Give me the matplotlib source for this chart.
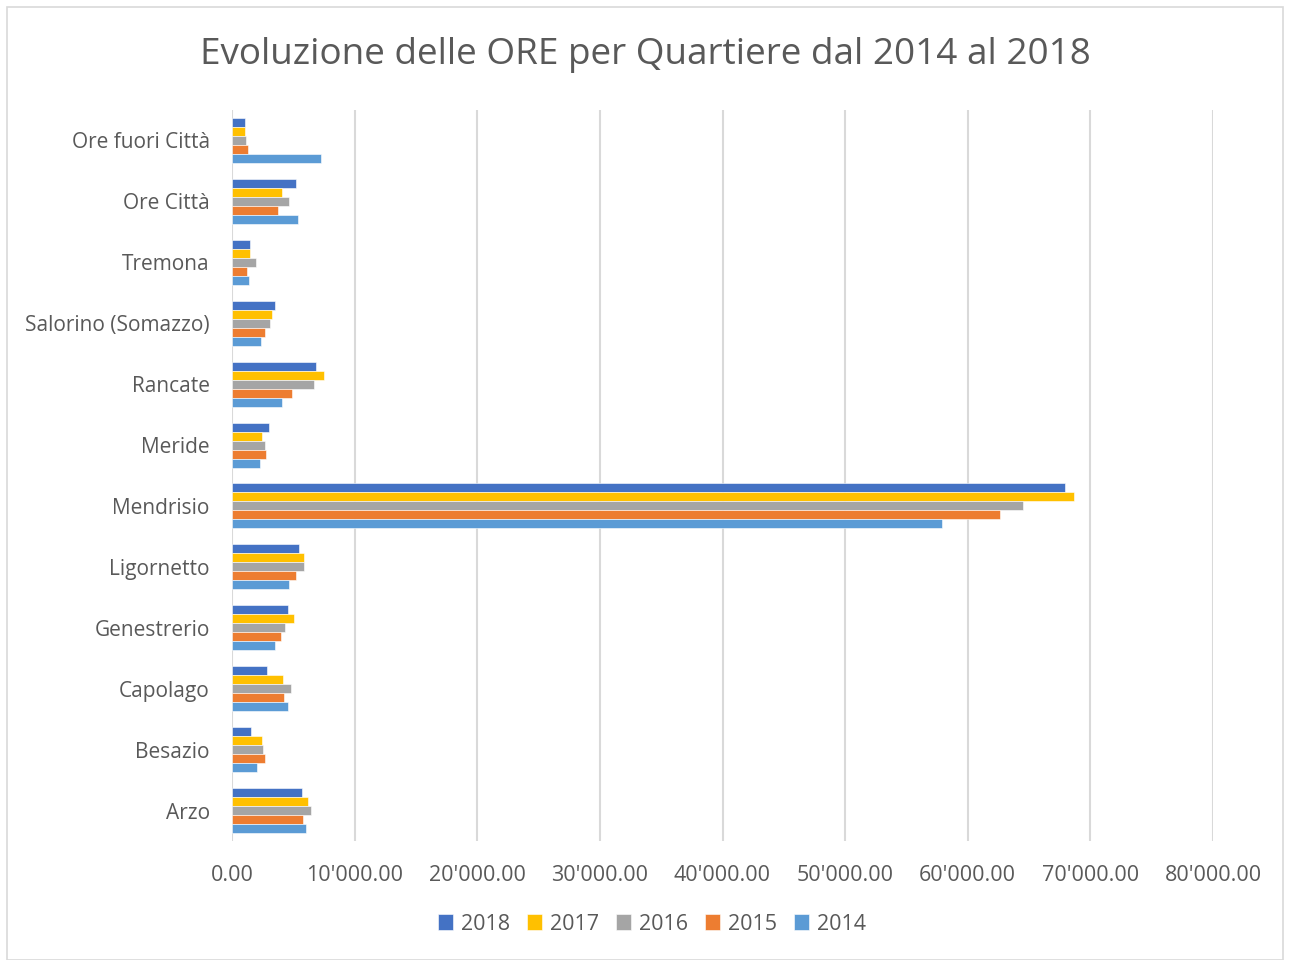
import numpy as np
import matplotlib.pyplot as plt
from matplotlib.patches import Rectangle
from matplotlib.ticker import FuncFormatter

plt.rcParams['font.family'] = ['Open Sans', 'DejaVu Sans']

# categories listed bottom to top
quartieri = ["Arzo", "Besazio", "Capolago", "Genestrerio", "Ligornetto",
             "Mendrisio", "Meride", "Rancate", "Salorino (Somazzo)",
             "Tremona", "Ore Città", "Ore fuori Città"]

ore_2018 = [5680, 1570, 2880, 4590, 5490, 67920, 3020, 6870, 3500, 1440, 5190, 1100]
ore_2017 = [6220, 2470, 4180, 5050, 5870, 68680, 2420, 7520, 3260, 1490, 4100, 1060]
ore_2016 = [6460, 2530, 4810, 4320, 5900, 64470, 2660, 6710, 3120, 1930, 4670, 1170]
ore_2015 = [5790, 2710, 4240, 4020, 5220, 62620, 2800, 4920, 2660, 1220, 3720, 1300]
ore_2014 = [6030, 2040, 4540, 3500, 4650, 57920, 2310, 4100, 2340, 1390, 5380, 7280]

anni = ["2018", "2017", "2016", "2015", "2014"]
serie = [ore_2018, ore_2017, ore_2016, ore_2015, ore_2014]
colori = ["#4472C4", "#FFC000", "#A5A5A5", "#ED7D31", "#5B9BD5"]

fig = plt.figure(figsize=(12.9, 9.6), dpi=100)
ax = fig.add_axes([232 / 1290, 1 - 841 / 960, (1213 - 232) / 1290, (841 - 110) / 960])

y = np.arange(len(quartieri))
h = 0.148
for i, (anno, valori, col) in enumerate(zip(anni, serie, colori)):
    ax.barh(y + (2 - i) * h, valori, height=h, color=col, label=anno,
            edgecolor="white", linewidth=0.4, zorder=3)

ax.set_xlim(0, 80000)
ax.set_ylim(-0.5, len(quartieri) - 0.5)
ax.set_xticks(np.arange(0, 80001, 10000))
ax.xaxis.set_major_formatter(FuncFormatter(lambda v, p: f"{v:,.2f}".replace(",", "'")))
ax.set_yticks(y)
ax.set_yticklabels(quartieri)
ax.tick_params(axis="both", length=0, labelsize=15, labelcolor="#595959")
ax.tick_params(axis="x", pad=17, labelsize=15.5)
ax.tick_params(axis="y", pad=16)
ax.grid(axis="x", color="#d9d9d9", linewidth=1.5, zorder=0)
for s in ax.spines.values():
    s.set_visible(False)

fig.text(0.5, 1 - 55 / 960, "Evoluzione delle ORE per Quartiere dal 2014 al 2018",
         ha="center", va="center", fontsize=26.6, color="#595959")

ax.legend(loc="center", bbox_to_anchor=(652 / 1290, 1 - 924 / 960),
          bbox_transform=fig.transFigure, ncol=5, frameon=False, fontsize=15.5,
          handlelength=0.7, handleheight=0.7, handletextpad=0.35, columnspacing=0.8,
          labelcolor="#595959")

fig.patches.append(Rectangle((7 / 1290, 0), 1 - 14 / 1290, 1 - 7 / 960,
                             transform=fig.transFigure, fill=False,
                             edgecolor="#d9d9d9", linewidth=1.2))

fig.savefig("out.png", dpi=100)
